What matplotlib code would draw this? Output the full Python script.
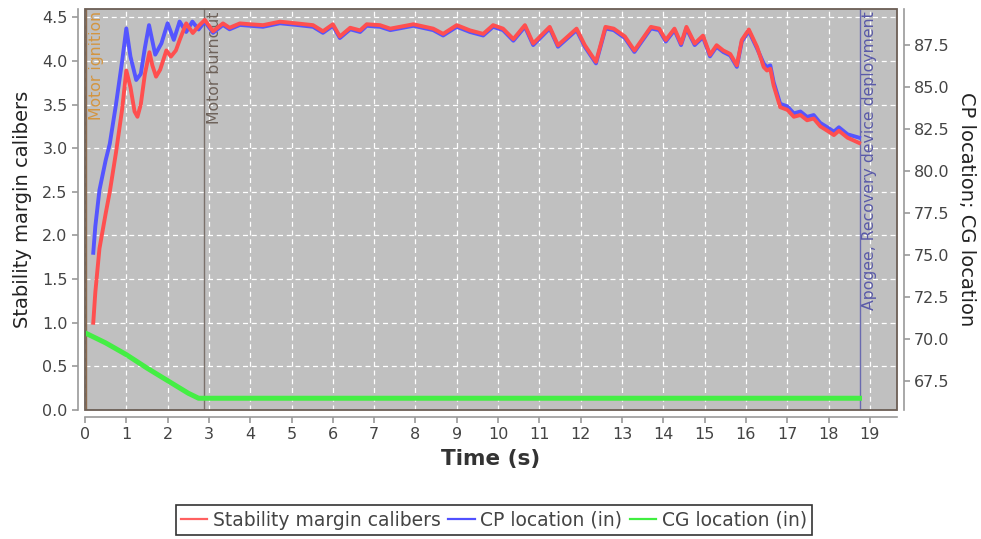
import matplotlib
matplotlib.use('Agg')
import matplotlib.pyplot as plt
from matplotlib.patches import Rectangle
from matplotlib.lines import Line2D

# Stabilitaetsreserve (Kaliber), Anfangsphase
t_early_sm = [0.2, 0.25, 0.35, 0.5, 0.6, 0.75, 0.9, 1.0, 1.1, 1.2, 1.27, 1.35, 1.45,
              1.56, 1.63, 1.72, 1.82, 1.97, 2.08, 2.2, 2.3, 2.45, 2.61, 2.75, 2.9]
sm_early = [1.0, 1.35, 1.85, 2.25, 2.5, 2.95, 3.45, 3.89, 3.7, 3.42, 3.36, 3.5, 3.85,
            4.1, 3.95, 3.82, 3.9, 4.12, 4.05, 4.12, 4.25, 4.43, 4.32, 4.4, 4.47]

# CP Lage (in), Anfangsphase
t_early_cp = [0.2, 0.25, 0.35, 0.5, 0.6, 0.75, 0.9, 1.0, 1.1, 1.24, 1.35, 1.45, 1.55,
              1.7, 1.85, 2.0, 2.15, 2.29, 2.45, 2.6, 2.75, 2.9]
cp_early = [75.12, 76.7, 78.86, 80.63, 81.62, 83.96, 86.56, 88.49, 86.82, 85.42, 85.78,
            87.34, 88.69, 86.93, 87.6, 88.8, 87.81, 88.9, 88.28, 88.9, 88.43, 88.9]

# Zeitpunkte nach Brennschluss (gemeinsam fuer beide Kurven)
t_late = [3.1, 3.34, 3.5, 3.75, 4.0, 4.31, 4.72, 5.12, 5.52, 5.76, 6.0, 6.17, 6.42, 6.66,
          6.82, 7.14, 7.39, 7.95, 8.43, 8.67, 9.0, 9.32, 9.64, 9.88, 10.12, 10.37, 10.65,
          10.85, 11.25, 11.45, 11.9, 12.1, 12.37, 12.6, 12.8, 13.07, 13.3, 13.7, 13.9,
          14.06, 14.27, 14.43, 14.56, 14.76, 14.96, 15.13, 15.29, 15.45, 15.62, 15.78,
          15.9, 16.07, 16.27, 16.43, 16.51, 16.59, 16.67, 16.83, 17.0, 17.16, 17.32,
          17.48, 17.64, 17.8, 17.97, 18.13, 18.25, 18.46, 18.74]
sm_late = [4.34, 4.43, 4.38, 4.43, 4.42, 4.41, 4.45, 4.43, 4.41, 4.34, 4.42, 4.28, 4.38,
           4.35, 4.42, 4.41, 4.37, 4.42, 4.37, 4.31, 4.41, 4.35, 4.31, 4.41, 4.37, 4.25,
           4.41, 4.20, 4.39, 4.18, 4.37, 4.18, 3.99, 4.39, 4.37, 4.28, 4.12, 4.39, 4.37,
           4.24, 4.37, 4.20, 4.39, 4.20, 4.29, 4.07, 4.18, 4.12, 4.08, 3.95, 4.24, 4.36,
           4.16, 3.93, 3.89, 3.91, 3.72, 3.47, 3.44, 3.36, 3.38, 3.32, 3.34, 3.25, 3.20,
           3.15, 3.20, 3.12, 3.06]
cp_late = [88.23, 88.70, 88.44, 88.70, 88.65, 88.59, 88.80, 88.70, 88.59, 88.23, 88.65,
           87.92, 88.44, 88.28, 88.65, 88.59, 88.39, 88.65, 88.39, 88.07, 88.59, 88.28,
           88.07, 88.59, 88.39, 87.76, 88.59, 87.50, 88.49, 87.40, 88.39, 87.40, 86.41,
           88.49, 88.39, 87.92, 87.09, 88.49, 88.39, 87.71, 88.39, 87.50, 88.49, 87.50,
           87.97, 86.83, 87.40, 87.09, 86.88, 86.20, 87.71, 88.33, 87.29, 86.40, 86.19,
           86.29, 85.30, 84.00, 83.85, 83.43, 83.54, 83.22, 83.33, 82.86, 82.60, 82.34,
           82.60, 82.18, 81.98]

# CG Lage (in)
t_cg = [0.0, 0.5, 1.0, 1.5, 2.0, 2.5, 2.75, 2.9, 18.75]
cg = [70.35, 69.75, 69.05, 68.25, 67.5, 66.75, 66.45, 66.45, 66.45]

# Ereignisse
events = ['Motor ignition', 'Motor burnout', 'Apogee, Recovery device deployment']
t_events = [0.02, 2.88, 18.75]
event_colors = ['#d4953f', '#6e625a', '#5a5aa8']
event_line_colors = ['#8a6a50', '#7a706a', '#6a6ab0']

t_sm = t_early_sm + t_late
stab = sm_early + sm_late
t_cp = t_early_cp + t_late
cp = cp_early + cp_late

fig = plt.figure(figsize=(9.81, 5.39), dpi=100)
ax1 = fig.add_axes([85 / 981, 1 - 410 / 539, (896.7 - 85) / 981, (410 - 9) / 539])
ax2 = ax1.twinx()

ax1.set_facecolor('#c0c0c0')
ax1.set_xlim(0, 19.65)
ax1.set_ylim(0, 4.595)
ax2.set_ylim(65.75, 89.65)

ax1.set_xticks(range(0, 20))
ax1.set_yticks([0.0, 0.5, 1.0, 1.5, 2.0, 2.5, 3.0, 3.5, 4.0, 4.5])
ax1.set_yticklabels(['0.0', '0.5', '1.0', '1.5', '2.0', '2.5', '3.0', '3.5', '4.0', '4.5'])
ax2.set_yticks([67.5, 70.0, 72.5, 75.0, 77.5, 80.0, 82.5, 85.0, 87.5])
ax2.set_yticklabels(['67.5', '70.0', '72.5', '75.0', '77.5', '80.0', '82.5', '85.0', '87.5'])

ax1.grid(True, color='white', linestyle=(0, (4, 3)), linewidth=0.9)
ax1.set_axisbelow(True)

# Ereignislinien und Beschriftungen
for name, te, tc, lc in zip(events, t_events, event_colors, event_line_colors):
    ax1.axvline(te, color=lc, linewidth=1.0, zorder=2)
    ax1.text(te + 0.07, 4.57, name, rotation=90, va='top', ha='left',
             color=tc, fontsize=11.3, zorder=3)

# Kurven: CP, CG auf rechter Achse, Stabilitaet darueber mit linker Skala
ax2.plot(t_cp, cp, color='#5555ff', linewidth=2.8, solid_joinstyle='round')
ax2.plot(t_cg, cg, color='#44ee44', linewidth=3.6)
ax2.plot(t_sm, stab, color='#ff4f4f', linewidth=2.8, transform=ax1.transData,
         solid_joinstyle='round')
ax2.set_ylim(65.75, 89.65)

# Rahmen um die Zeichenflaeche
ax2.add_patch(Rectangle((0, 0), 1, 1, transform=ax1.transAxes, fill=False,
                        edgecolor='#6b5e55', linewidth=1.3, zorder=10, clip_on=False))

for ax in (ax1, ax2):
    for s in ax.spines.values():
        s.set_visible(False)
ax1.spines['left'].set_visible(True)
ax1.spines['bottom'].set_visible(True)
ax2.spines['right'].set_visible(True)
ax1.spines['left'].set_position(('outward', 5))
ax1.spines['bottom'].set_position(('outward', 5))
ax2.spines['right'].set_position(('outward', 5))
for s in (ax1.spines['left'], ax1.spines['bottom'], ax2.spines['right']):
    s.set_color('#9a9a9a')
    s.set_linewidth(1.2)

ax1.tick_params(axis='both', colors='#9a9a9a', labelcolor='#444444', labelsize=11.5,
                length=4, width=1.2)
ax2.tick_params(axis='y', colors='#9a9a9a', labelcolor='#444444', labelsize=11.5,
                length=4, width=1.2)

ax1.set_xlabel('Time (s)', fontsize=15.5, fontweight='bold', color='#333333', labelpad=5)
ax1.set_ylabel('Stability margin calibers', fontsize=14, color='#222222', labelpad=7)
ax2.set_ylabel('CP location; CG location', fontsize=14, color='#222222',
               rotation=270, labelpad=19)

handles = [Line2D([], [], color='#ff6060', linewidth=1.6),
           Line2D([], [], color='#5050ff', linewidth=1.6),
           Line2D([], [], color='#40ee40', linewidth=1.6)]
labels = ['Stability margin calibers', 'CP location (in)', 'CG location (in)']
leg = fig.legend(handles, labels, loc='center', bbox_to_anchor=(494 / 981, 1 - 520 / 539),
                 ncol=3, fontsize=13.5, frameon=True, fancybox=False, handlelength=1.4,
                 handletextpad=0.3, columnspacing=0.4, borderpad=0.3)
leg.get_frame().set_edgecolor('black')
leg.get_frame().set_linewidth(1.2)
for txt in leg.get_texts():
    txt.set_color('#444444')

fig.savefig('out.png', dpi=100)
